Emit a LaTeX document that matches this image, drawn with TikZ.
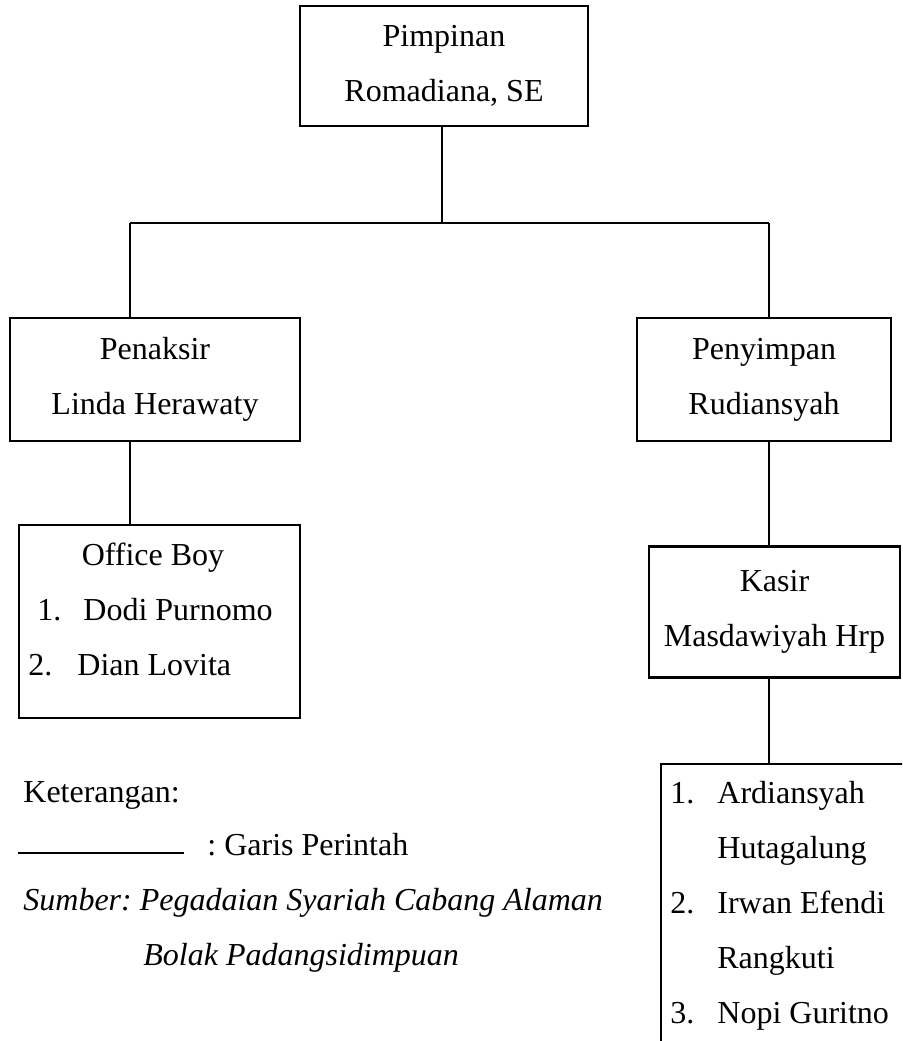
\documentclass[tikz,border=0pt]{standalone}
\usepackage{fontspec}
\setmainfont{Liberation Serif}
\usetikzlibrary{positioning}
\frenchspacing

\begin{document}
\begin{tikzpicture}[
		x=0.5pt, y=-0.5pt,
		k/.style = {rectangle, draw=black, line width=1.2pt, inner sep=0pt, align=center, font=\fontsize{16}{27.5}\selectfont},
		t/.style = {anchor=base west, inner sep=0pt, font=\fontsize{16}{27.5}\selectfont},
		g/.style = {line width=1pt},
		]
		\useasboundingbox (0,0) rectangle (902,1041);
		\clip (0,0) rectangle (902,1041);
		
		%Nodes
		\node[k, minimum width=144pt, minimum height=60pt]		(pimpinan)	at	(444, 66)		{Pimpinan\\Romadiana, SE};
		\node[k, minimum width=145pt, minimum height=61.5pt]	(penaksir)	at	(155, 379.5)	{Penaksir\\Linda Herawaty};
		\node[k, minimum width=127pt, minimum height=61.5pt]	(penyimpan)	at	(764, 379.5)	{Penyimpan\\Rudiansyah};
		\node[k, minimum width=125.5pt, minimum height=65.5pt]	(kasir)		at	(774.5, 612)	{Kasir\\Masdawiyah Hrp};
		\node[k, minimum width=140.5pt, minimum height=96.5pt]	(ob)		at	(159.5, 621.5)	{};
		\node[k, anchor=north west, minimum width=160pt, minimum height=160pt]	(staf)	at	(660, 763)	{};
		
		%Office boy
		\node[t, anchor=base]	(objudul)	at	(153, 565)	{Office Boy};
		\node[t]	(ob1n)	at	(37, 620)	{1.};
		\node[t]	(ob1)	at	(83, 620)	{Dodi Purnomo};
		\node[t]	(ob2n)	at	(28, 675)	{2.};
		\node[t]	(ob2)	at	(77, 675)	{Dian Lovita};
		
		%Staf
		\node[t]	(s1n)	at	(670, 803)	{1.};
		\node[t]	(s1a)	at	(717, 803)	{Ardiansyah};
		\node[t]	(s1b)	at	(717, 858)	{Hutagalung};
		\node[t]	(s2n)	at	(670, 913)	{2.};
		\node[t]	(s2a)	at	(717, 913)	{Irwan Efendi};
		\node[t]	(s2b)	at	(717, 968)	{Rangkuti};
		\node[t]	(s3n)	at	(670, 1023)	{3.};
		\node[t]	(s3a)	at	(717, 1023)	{Nopi Guritno};
		
		%Keterangan
		\node[t]	(ket)		at	(23, 802)	{Keterangan:};
		\node[t]	(garis)		at	(207, 855)	{: Garis Perintah};
		\node[t, font=\fontsize{16}{27.5}\selectfont\itshape]	(sumber1)	at	(23, 910)	{Sumber: Pegadaian Syariah Cabang Alaman};
		\node[t, font=\fontsize{16}{27.5}\selectfont\itshape]	(sumber2)	at	(143, 965)	{Bolak Padangsidimpuan};
		\coordinate	(lg1)	at	(18, 853);
		\coordinate	(lg2)	at	(184, 853);
		
		%Lines
		\coordinate	(top)	at	(442, 223);
		\coordinate	(kiri)	at	(130, 223);
		\coordinate	(kanan)	at	(769, 223);
		\draw[g]	(pimpinan.south -| top)	--	(top);
		\draw[g]	(kiri)	--	(kanan);
		\draw[g]	(kiri)	--	(kiri |- penaksir.north);
		\draw[g]	(kanan)	--	(kanan |- penyimpan.north);
		\draw[g]	(penaksir.south -| kiri)	--	(ob.north -| kiri);
		\draw[g]	(penyimpan.south -| kanan)	--	(kasir.north -| kanan);
		\draw[g]	(kasir.south -| kanan)	--	(staf.north -| kanan);
		\draw[g]	(lg1)	--	(lg2);
	\end{tikzpicture}
\end{document}
